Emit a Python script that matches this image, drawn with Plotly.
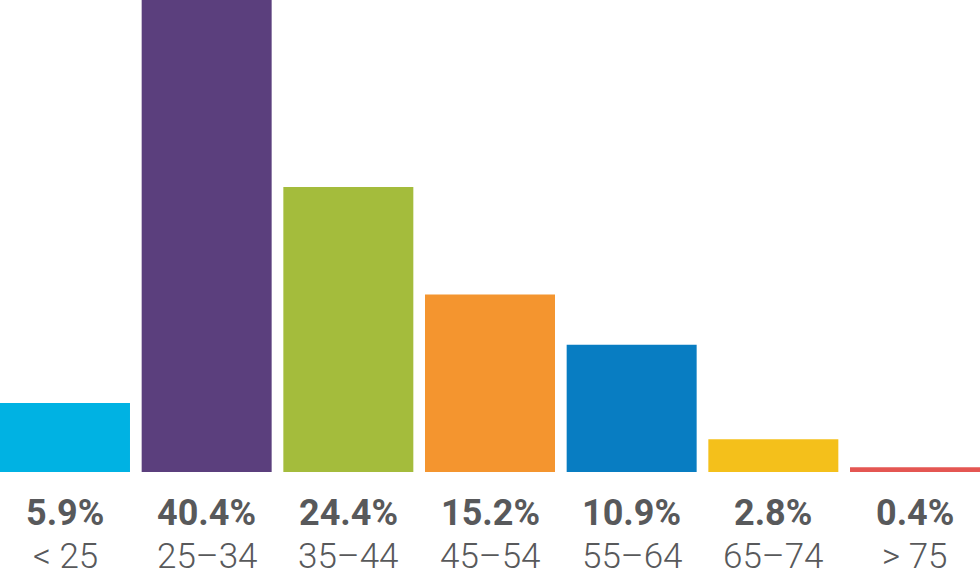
import plotly.graph_objects as go

# faixas etárias e percentuais
faixas = ["< 25", "25–34", "35–44", "45–54", "55–64", "65–74", "> 75"]
percentuais = [5.9, 40.4, 24.4, 15.2, 10.9, 2.8, 0.4]
cores = ["#00b2e3", "#5b3f7d", "#a4bc3c", "#f4952f", "#087dc2", "#f4c01b", "#e45652"]

largura = 0.9176

fig = go.Figure()
fig.add_trace(go.Bar(
    x=list(range(len(faixas))),
    y=percentuais,
    width=largura,
    marker=dict(color=cores, line=dict(width=0)),
    hoverinfo="skip",
))

# rótulos abaixo das barras
for i, (faixa, pct) in enumerate(zip(faixas, percentuais)):
    fig.add_annotation(
        x=i, y=-0.087, xref="x", yref="paper",
        text=f"<b>{pct:.1f}%</b>", showarrow=False, yanchor="middle",
        font=dict(family="Roboto", size=36, color="#58595b"),
    )
    fig.add_annotation(
        x=i, y=-0.178, xref="x", yref="paper",
        text=faixa.replace("<", "&lt;").replace(">", "&gt;"), showarrow=False, yanchor="middle",
        font=dict(family="Roboto", size=35, color="#58595b", weight=300),
    )

fig.update_xaxes(range=[-largura / 2, len(faixas) - 1 + largura / 2], visible=False)
fig.update_yaxes(range=[0, 40.4], visible=False)
fig.update_layout(
    width=980, height=587,
    margin=dict(l=0, r=0, t=0, b=115),
    plot_bgcolor="white", paper_bgcolor="white",
    showlegend=False,
)

# tira a margem do body pra figura ocupar a janela toda
fig.write_html("out.html", config={"displayModeBar": False},
               post_script="document.body.style.margin='0';")
